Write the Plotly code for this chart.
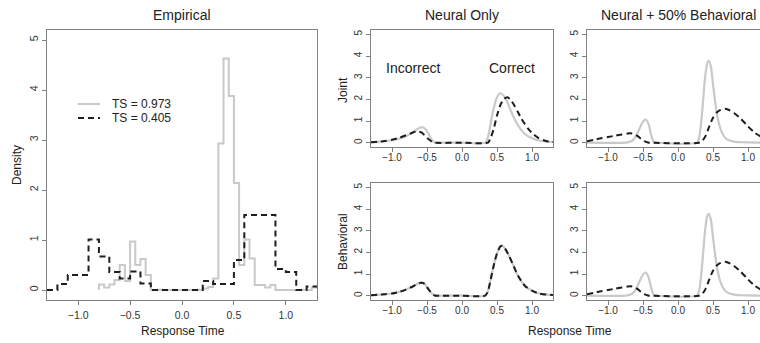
import plotly.graph_objects as go

W, H = 760, 343

# ---------------- Empirical histograms ----------------
# TS = 0.973 (gray), bin width 0.05: left edges and densities
gray_edges = [-0.80, -0.75, -0.70, -0.65, -0.60, -0.55, -0.50, -0.45, -0.40, -0.35,
              -0.30, 0.20, 0.25, 0.30, 0.35, 0.40, 0.45, 0.50, 0.55, 0.60,
              0.65, 0.70, 0.75, 0.80, 0.85, 0.90, 1.25, 1.30]
gray_heights = [0.11, 0.05, 0.11, 0.20, 0.50, 0.18, 0.97, 0.50, 0.62, 0.30,
                0.00, 0.03, 0.06, 0.23, 2.93, 4.63, 3.88, 2.14, 0.50, 1.01,
                0.63, 0.10, 0.10, 0.05, 0.10, 0.00, 0.05, 0.05]
# TS = 0.405 (dashed), bin width 0.1
dash_edges = [-1.30, -1.20, -1.10, -0.90, -0.80, -0.70, -0.60, -0.50, -0.40, -0.30,
              0.20, 0.30, 0.50, 0.60, 0.90, 1.00, 1.10, 1.20, 1.30]
dash_heights = [0.00, 0.12, 0.30, 1.01, 0.67, 0.36, 0.23, 0.37, 0.13, 0.00,
                0.18, 0.12, 0.60, 1.50, 0.42, 0.36, 0.00, 0.07, 0.07]

# ---------------- Neural Only: Joint ----------------
nj_gray_x = [-1.3, -1.2, -1.1, -1.0, -0.9, -0.8, -0.7, -0.65, -0.6, -0.57, -0.52, -0.47,
             -0.43, -0.39, -0.35, 0.0, 0.33, 0.37, 0.41, 0.45, 0.5, 0.55, 0.6, 0.65,
             0.7, 0.75, 0.8, 0.9, 1.0, 1.1, 1.2, 1.3]
nj_gray_y = [0.02, 0.04, 0.07, 0.11, 0.18, 0.30, 0.48, 0.60, 0.69, 0.72, 0.62, 0.35,
             0.12, 0.01, 0.0, 0.0, 0.0, 0.25, 0.90, 1.55, 2.10, 2.28, 2.15, 1.85,
             1.45, 1.10, 0.80, 0.40, 0.20, 0.10, 0.05, 0.03]
nj_dash_x = [-1.3, -1.2, -1.1, -1.0, -0.9, -0.8, -0.7, -0.65, -0.62, -0.58, -0.53, -0.48,
             -0.43, -0.39, 0.0, 0.37, 0.4, 0.45, 0.5, 0.55, 0.6, 0.65, 0.7, 0.75,
             0.8, 0.85, 0.9, 0.95, 1.0, 1.1, 1.2, 1.3]
nj_dash_y = [0.02, 0.04, 0.08, 0.13, 0.22, 0.34, 0.47, 0.52, 0.52, 0.47, 0.33, 0.17,
             0.05, 0.0, 0.0, 0.0, 0.15, 0.60, 1.25, 1.75, 2.02, 2.10, 1.95, 1.70,
             1.40, 1.10, 0.85, 0.62, 0.45, 0.20, 0.08, 0.03]

# ---------------- Neural Only: Behavioral (both curves coincide) ----------------
nb_x = [-1.3, -1.2, -1.1, -1.0, -0.9, -0.8, -0.7, -0.65, -0.6, -0.57, -0.53, -0.48,
        -0.43, -0.39, -0.35, 0.0, 0.33, 0.37, 0.41, 0.45, 0.5, 0.55, 0.58, 0.62,
        0.67, 0.72, 0.8, 0.9, 1.0, 1.1, 1.2, 1.3]
nb_gray_y = [0.02, 0.04, 0.07, 0.10, 0.17, 0.28, 0.43, 0.52, 0.59, 0.60, 0.53, 0.30,
             0.10, 0.01, 0.0, 0.0, 0.0, 0.20, 0.75, 1.35, 1.95, 2.28, 2.30, 2.15,
             1.85, 1.50, 0.92, 0.45, 0.23, 0.10, 0.05, 0.03]
nb_dash_y = [0.02, 0.04, 0.07, 0.10, 0.17, 0.28, 0.43, 0.52, 0.59, 0.60, 0.53, 0.30,
             0.10, 0.01, 0.0, 0.0, 0.0, 0.20, 0.75, 1.35, 1.95, 2.28, 2.30, 2.15,
             1.85, 1.50, 0.92, 0.45, 0.23, 0.10, 0.05, 0.03]

# ---------------- Neural + 50% Behavioral (same in both rows) ----------------
mb_gray_x = [-1.3, -0.75, -0.7, -0.65, -0.6, -0.55, -0.5, -0.46, -0.42, -0.39, -0.36, -0.33,
             -0.3, 0.27, 0.3, 0.33, 0.36, 0.39, 0.42, 0.44, 0.47, 0.5, 0.53, 0.56,
             0.6, 0.65, 0.7, 0.8, 0.9, 1.0, 1.3]
mb_gray_y = [0.0, 0.0, 0.03, 0.10, 0.30, 0.65, 0.97, 1.07, 0.85, 0.45, 0.12, 0.01,
             0.0, 0.0, 0.20, 0.90, 2.00, 3.10, 3.70, 3.78, 3.50, 2.70, 1.90, 1.25,
             0.70, 0.33, 0.15, 0.05, 0.02, 0.01, 0.0]
mb_dash_x = [-1.3, -1.2, -1.1, -1.0, -0.9, -0.8, -0.72, -0.68, -0.63, -0.58, -0.53, -0.48,
             -0.43, -0.4, 0.3, 0.35, 0.4, 0.45, 0.5, 0.55, 0.6, 0.67, 0.72, 0.8,
             0.9, 1.0, 1.1, 1.2, 1.3]
mb_dash_y = [0.07, 0.13, 0.20, 0.26, 0.32, 0.38, 0.42, 0.43, 0.40, 0.31, 0.18, 0.07,
             0.01, 0.0, 0.0, 0.10, 0.35, 0.78, 1.15, 1.38, 1.50, 1.56, 1.52, 1.37,
             1.10, 0.75, 0.45, 0.25, 0.12]

x_ticks = [-1.0, -0.5, 0.0, 0.5, 1.0]
y_ticks = [0, 1, 2, 3, 4, 5]
legend_labels = ["TS = 0.973", "TS = 0.405"]

GRAY = "#c9c9c9"
DARK = "#1e1e1e"
FONT = "Liberation Sans, Arial, Helvetica, sans-serif"
DASH = "6px,4px"


def xd(a, b):
    return [a / W, b / W]


def yd(top, bottom):
    return [(H - bottom) / H, (H - top) / H]


def step_xy(edges, heights):
    # start the step line from the baseline, as R's histogram outline does
    xs = [edges[0]] + list(edges)
    ys = [0.0] + list(heights)
    return xs, ys


fig = go.Figure()

# empirical
gx, gy = step_xy(gray_edges, gray_heights)
fig.add_trace(go.Scatter(x=gx, y=gy, mode="lines", line=dict(color=GRAY, width=2, shape="hv"),
                         xaxis="x", yaxis="y", showlegend=False))
dx, dy = step_xy(dash_edges, dash_heights)
fig.add_trace(go.Scatter(x=dx, y=dy, mode="lines",
                         line=dict(color=DARK, width=2, shape="hv", dash=DASH),
                         xaxis="x", yaxis="y", showlegend=False))

panels = [
    ("x2", "y2", nj_gray_x, nj_gray_y, nj_dash_x, nj_dash_y),
    ("x3", "y3", nb_x, nb_gray_y, nb_x, nb_dash_y),
    ("x4", "y4", mb_gray_x, mb_gray_y, mb_dash_x, mb_dash_y),
    ("x5", "y5", mb_gray_x, mb_gray_y, mb_dash_x, mb_dash_y),
]
for xa, ya, gxs, gys, dxs, dys in panels:
    fig.add_trace(go.Scatter(x=gxs, y=gys, mode="lines",
                             line=dict(color=GRAY, width=2.2, shape="spline", smoothing=0.7),
                             xaxis=xa, yaxis=ya, showlegend=False))
    fig.add_trace(go.Scatter(x=dxs, y=dys, mode="lines",
                             line=dict(color=DARK, width=2, shape="spline", smoothing=0.7, dash=DASH),
                             xaxis=xa, yaxis=ya, showlegend=False))

AXC = "#808080"


def xaxis(domain, anchor, rng, fsize, standoff=0):
    return dict(domain=domain, anchor=anchor, range=rng, showgrid=False, zeroline=False,
                showline=True, mirror=True, linecolor=AXC, linewidth=1,
                ticks="outside", ticklen=4, tickcolor=AXC, tickvals=x_ticks,
                ticklabelstandoff=standoff,
                tickformat=".1f", tickfont=dict(family=FONT, size=fsize, color="#333"))


def yaxis(domain, anchor, fsize, mirror=True):
    return dict(domain=domain, anchor=anchor, range=[-0.2, 5.2], showgrid=False, zeroline=False,
                showline=True, mirror=mirror, linecolor=AXC, linewidth=1,
                ticks="outside", ticklen=4, tickcolor=AXC, tickvals=y_ticks, tickangle=-90,
                tickfont=dict(family=FONT, size=fsize, color="#333"))


xr_full = [-1.3, 1.3]
xr_cut = [-1.3, -1.3 + 173 / 70]

fig.update_layout(
    width=W, height=H, margin=dict(l=0, r=0, t=0, b=0),
    plot_bgcolor="white", paper_bgcolor="white",
    font=dict(family=FONT, color="#222"),
    xaxis=xaxis(xd(47, 317), "y", xr_full, 10.5, 1),
    yaxis=yaxis(yd(30, 300), "x", 10.5),
    xaxis2=xaxis(xd(371, 553), "y2", xr_full, 10, -3),
    yaxis2=yaxis(yd(30, 147), "x2", 10),
    xaxis3=xaxis(xd(371, 553), "y3", xr_full, 10, -3),
    yaxis3=yaxis(yd(183, 300), "x3", 10),
    xaxis4=xaxis(xd(587, 760), "y4", xr_cut, 10, -3),
    yaxis4=yaxis(yd(30, 147), "x4", 10, mirror=False),
    xaxis5=xaxis(xd(587, 760), "y5", xr_cut, 10, -3),
    yaxis5=yaxis(yd(183, 300), "x5", 10, mirror=False),
)


def pa(text, px, py, size, angle=0, xanchor="center"):
    fig.add_annotation(text=text, x=px / W, y=(H - py) / H, xref="paper", yref="paper",
                       showarrow=False, textangle=angle, xanchor=xanchor, yanchor="middle",
                       font=dict(family=FONT, size=size, color="#222"))


pa("Empirical", 182, 15, 14)
pa("Neural Only", 462, 15, 14)
pa("Neural + 50% Behavioral", 678, 15, 14)
pa("Density", 17, 165, 12, -90)
pa("Response Time", 183, 331, 12)
pa("Response Time", 570, 331, 12)
pa("Joint", 343, 90, 12, -90)
pa("Behavioral", 343, 242, 12, -90)

fig.add_annotation(text="Incorrect", x=-0.7, y=3.45, xref="x2", yref="y2", showarrow=False,
                   font=dict(family=FONT, size=14, color="#222"))
fig.add_annotation(text="Correct", x=0.71, y=3.45, xref="x2", yref="y2", showarrow=False,
                   font=dict(family=FONT, size=14, color="#222"))

# legend (manual, R style)
for i, (lab, col, dsh) in enumerate(zip(legend_labels, [GRAY, DARK], ["solid", DASH])):
    py = 104 + 14 * i
    fig.add_shape(type="line", xref="paper", yref="paper", x0=78 / W, x1=100 / W,
                  y0=(H - py) / H, y1=(H - py) / H, line=dict(color=col, width=2, dash=dsh))
    pa(lab, 110, py, 12, xanchor="left")

fig.write_html("out.html")
